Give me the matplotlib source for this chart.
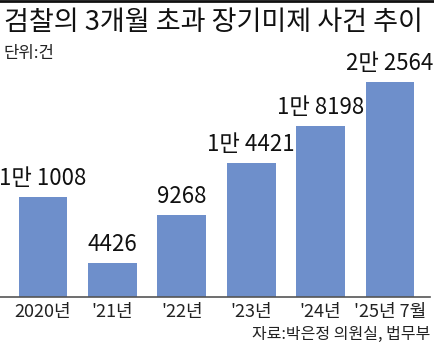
import matplotlib
matplotlib.use("Agg")
import matplotlib.pyplot as plt
from matplotlib.lines import Line2D

plt.rcParams['font.family'] = ['Noto Sans CJK KR', 'DejaVu Sans']

categories = ["2020년", "'21년", "'22년", "'23년", "'24년", "'25년 7월"]
values = [11008, 4426, 9268, 14421, 18198, 22564]
labels = ["1만 1008", "4426", "9268", "1만 4421", "1만 8198", "2만 2564"]

W, H = 434, 355
fig = plt.figure(figsize=(W / 100, H / 100), dpi=100)

bar_color = "#6e8fcb"
left_px, right_px = 8.3, 424.7
bottom_px, top_px = 297, 60
ax = fig.add_axes([left_px / W, 1 - bottom_px / H, (right_px - left_px) / W, (bottom_px - top_px) / H])
scale = 0.00998  # px per unit
ymin = 1020
ax.set_ylim(ymin, ymin + (bottom_px - top_px) / scale)
ax.set_xlim(-0.5, len(values) - 0.5)

x = range(len(values))
ax.bar(x, values, width=0.706, color=bar_color, zorder=2)
for xi, v, lab in zip(x, values, labels):
    ax.annotate(lab, (xi, v), xytext=(0, 5), textcoords="offset points",
                ha="center", va="bottom", fontsize=16, fontweight="medium", color="#111111")

ax.set_xticks(list(x))
ax.set_xticklabels(categories, fontsize=13, color="#222222")
ax.tick_params(axis="x", length=0, pad=4)
ax.set_yticks([])
for s in ax.spines.values():
    s.set_visible(False)
ax.patch.set_alpha(0)

fig.add_artist(Line2D([0 / W, 430 / W], [1 - 297 / H, 1 - 297 / H], color="#555555", lw=1.2))
fig.add_artist(Line2D([0, 1], [1 - 1 / H, 1 - 1 / H], color="#111111", lw=2))

fig.text(4 / W, 1 - 9 / H, "검찰의 3개월 초과 장기미제 사건 추이", fontsize=19.5, fontweight="medium",
         ha="left", va="top", color="#111111")
fig.text(3 / W, 1 - 45 / H, "단위:건", fontsize=12, ha="left", va="top", color="#222222")
fig.text(430 / W, 1 - 326 / H, "자료:박은정 의원실, 법무부", fontsize=11.5, ha="right", va="top", color="#222222")

fig.savefig("out.png", dpi=100)
